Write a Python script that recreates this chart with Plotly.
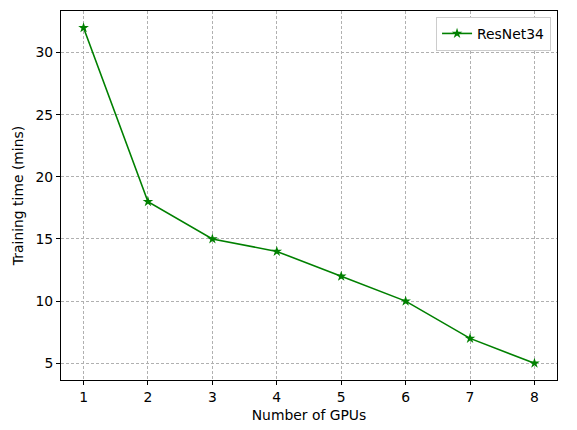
import plotly.graph_objects as go

gpus = [1, 2, 3, 4, 5, 6, 7, 8]
train_time = [32, 18, 15, 14, 12, 10, 7, 5]
x_ticks = [1, 2, 3, 4, 5, 6, 7, 8]
y_ticks = [5, 10, 15, 20, 25, 30]

fig = go.Figure()
fig.add_trace(go.Scatter(
    x=gpus, y=train_time, mode="lines+markers", name="ResNet34",
    line=dict(color="#008000", width=1.6),
    marker=dict(symbol="star", size=8, color="#008000"),
))

axis_common = dict(
    showline=True, linecolor="black", linewidth=1, mirror=True,
    ticks="outside", ticklen=4, tickcolor="black",
    showgrid=True, gridcolor="#b0b0b0", griddash="3px,2px", gridwidth=0.8,
    zeroline=False, automargin=False,
    tickfont=dict(family="DejaVu Sans", size=13.9, color="black"),
)
fig.update_xaxes(range=[0.65, 8.35], tickvals=x_ticks,
                 title=dict(text="Number of GPUs", standoff=6, font=dict(size=13.9)), **axis_common)
fig.update_yaxes(range=[3.65, 33.35], tickvals=y_ticks,
                 title=dict(text="Training time (mins)", standoff=8, font=dict(size=13.9)), **axis_common)

fig.update_layout(
    width=577, height=430,
    margin=dict(l=61, r=20, t=11, b=50),
    plot_bgcolor="white", paper_bgcolor="white",
    font=dict(family="DejaVu Sans", size=13.9, color="black"),
    showlegend=True,
    legend=dict(x=0.988, y=0.984, xanchor="right", yanchor="top",
                bordercolor="#cccccc", borderwidth=1, bgcolor="white",
                font=dict(size=13.9)),
)

# drop the default page margin so the figure sits at the window origin
fig.write_html("out.html", config={"displayModeBar": False},
               post_script="document.body.style.margin='0';")
